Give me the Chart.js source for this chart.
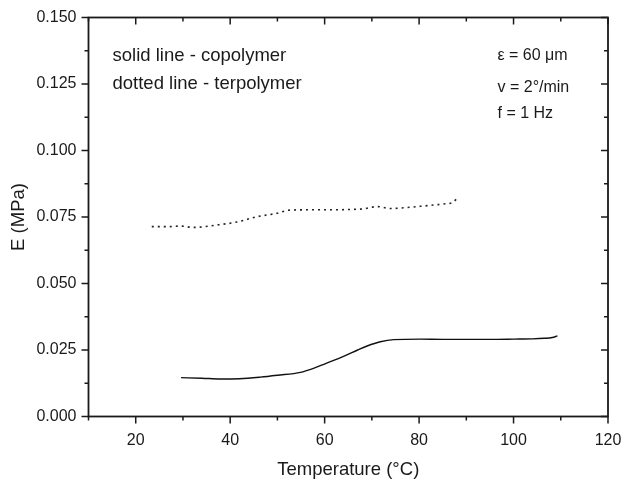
<!DOCTYPE html>
<html>
<head>
<meta charset="utf-8">
<script src="https://cdn.jsdelivr.net/npm/chart.js@4/dist/chart.umd.min.js"></script>
<style>
  html, body { margin: 0; padding: 0; background: #fff; }
  #wrap { width: 625px; height: 481px; position: relative; }
</style>
</head>
<body>
<div id="wrap"><canvas id="c" width="625" height="481"></canvas></div>
<script>
// Copolymer (solid line)
const copolymerTemp = [29.6, 34, 37.9, 42, 46.4, 50, 54.9, 57.5, 60.2, 64.0, 67, 69.0, 71.8, 74.6, 80.3, 85, 90.2, 95, 100.1, 104, 106.5, 108.2, 109.3];
const copolymerE    = [0.0146, 0.0144, 0.0141, 0.0142, 0.0148, 0.0155, 0.0166, 0.0180, 0.0199, 0.0226, 0.0250, 0.0265, 0.0281, 0.0289, 0.0291, 0.0290, 0.0290, 0.0290, 0.0291, 0.0292, 0.0294, 0.0297, 0.0303];
// Terpolymer (dotted line)
const terpolymerTemp = [23.4, 27.3, 29.4, 32.2, 37.2, 41.4, 45.7, 49.9, 52.7, 57, 61.2, 65, 68.3, 71.1, 73.9, 77, 79.6, 85.2, 87.0, 88.4];
const terpolymerE    = [0.0714, 0.0714, 0.0716, 0.0711, 0.0720, 0.0731, 0.0751, 0.0764, 0.0776, 0.0777, 0.0777, 0.0778, 0.0781, 0.0789, 0.0782, 0.0785, 0.0789, 0.0799, 0.0804, 0.0826];

const xMin = 10, xMax = 120, xMajor = 20, xMinor = 10;
const yMin = 0, yMax = 0.15, yMajor = 0.025, yMinor = 0.0125;
const xTitle = 'Temperature (°C)';
const yTitle = 'E (MPa)';
const noteLeft = ['solid line - copolymer', 'dotted line - terpolymer'];
const noteRight = ['ε = 60 μm', 'v = 2°/min', 'f = 1 Hz'];

const FONT = '"Liberation Sans", Arial, Helvetica, sans-serif';
const INK = '#1a1a1a';

const toPts = (xs, ys) => xs.map((x, i) => ({ x: x, y: ys[i] }));

const frame = {
  id: 'frame',
  afterDraw(chart) {
    const ctx = chart.ctx, a = chart.chartArea;
    const xs = chart.scales.x, ys = chart.scales.y;
    ctx.save();
    ctx.strokeStyle = INK;
    ctx.lineWidth = 1.8;
    ctx.strokeRect(a.left, a.top, a.right - a.left, a.bottom - a.top);
    ctx.lineWidth = 1.5;
    ctx.beginPath();
    for (let k = 0; k <= Math.round((xMax - xMin) / xMinor); k++) {
      const v = xMin + k * xMinor;
      const isMajor = Math.abs(v % xMajor) < 1e-6;
      const px = xs.getPixelForValue(v);
      const L = isMajor ? 7 : 4;
      ctx.moveTo(px, a.bottom); ctx.lineTo(px, a.bottom + L);
      ctx.moveTo(px, a.top); ctx.lineTo(px, a.top + L);
    }
    for (let k = 0; k <= Math.round((yMax - yMin) / yMinor); k++) {
      const v = yMin + k * yMinor;
      const isMajor = k % 2 === 0;
      const py = ys.getPixelForValue(v);
      const L = isMajor ? 7 : 4;
      ctx.moveTo(a.left, py); ctx.lineTo(a.left - L, py);
      ctx.moveTo(a.right, py); ctx.lineTo(a.right - L, py);
    }
    ctx.stroke();

    ctx.fillStyle = INK;
    ctx.textBaseline = 'middle';
    ctx.textAlign = 'left';
    ctx.font = '18.5px ' + FONT;
    ctx.fillText(noteLeft[0], a.left + 24, a.top + 38);
    ctx.fillText(noteLeft[1], a.left + 24, a.top + 66);
    ctx.font = '16px ' + FONT;
    ctx.fillText(noteRight[0], a.left + 409, a.top + 38);
    ctx.fillText(noteRight[1], a.left + 409, a.top + 70);
    ctx.fillText(noteRight[2], a.left + 409, a.top + 96);
    ctx.restore();
  }
};

new Chart(document.getElementById('c'), {
  type: 'scatter',
  data: {
    datasets: [
      {
        label: 'copolymer',
        data: toPts(copolymerTemp, copolymerE),
        showLine: true,
        borderColor: '#111',
        borderWidth: 1.4,
        pointRadius: 0,
        tension: 0.4,
        cubicInterpolationMode: 'monotone'
      },
      {
        label: 'terpolymer',
        data: toPts(terpolymerTemp, terpolymerE),
        showLine: true,
        borderColor: '#222',
        borderWidth: 1.6,
        borderDash: [2, 4],
        pointRadius: 0,
        tension: 0.4,
        cubicInterpolationMode: 'monotone'
      }
    ]
  },
  options: {
    responsive: false,
    animation: false,
    devicePixelRatio: 1,
    layout: { padding: { top: 17.5, right: 17, left: 0, bottom: 0 } },
    plugins: { legend: { display: false }, tooltip: { enabled: false } },
    scales: {
      x: {
        type: 'linear',
        min: xMin, max: xMax,
        afterFit(s) { s.height = 64.5; s.paddingLeft = 0; s.paddingRight = 0; },
        grid: { display: false, drawTicks: false },
        border: { display: false },
        ticks: {
          stepSize: xMajor,
          padding: 14,
          color: INK,
          font: { family: FONT, size: 16 },
          callback: (v) => (v === xMin ? '' : String(v))
        },
        title: {
          display: true, text: xTitle, color: INK,
          font: { family: FONT, size: 18.5 },
          padding: { top: 8, bottom: 0 }
        }
      },
      y: {
        type: 'linear',
        min: yMin, max: yMax,
        afterFit(s) { s.width = 88.5; s.paddingTop = 0; s.paddingBottom = 0; },
        grid: { display: false, drawTicks: false },
        border: { display: false },
        ticks: {
          stepSize: yMajor,
          padding: 12,
          color: INK,
          font: { family: FONT, size: 16 },
          callback: (v) => Number(v).toFixed(3)
        },
        title: {
          display: true, text: yTitle, color: INK,
          font: { family: FONT, size: 18.5 },
          padding: { top: 8, bottom: 0 }
        }
      }
    }
  },
  plugins: [frame]
});
</script>
</body>
</html>
